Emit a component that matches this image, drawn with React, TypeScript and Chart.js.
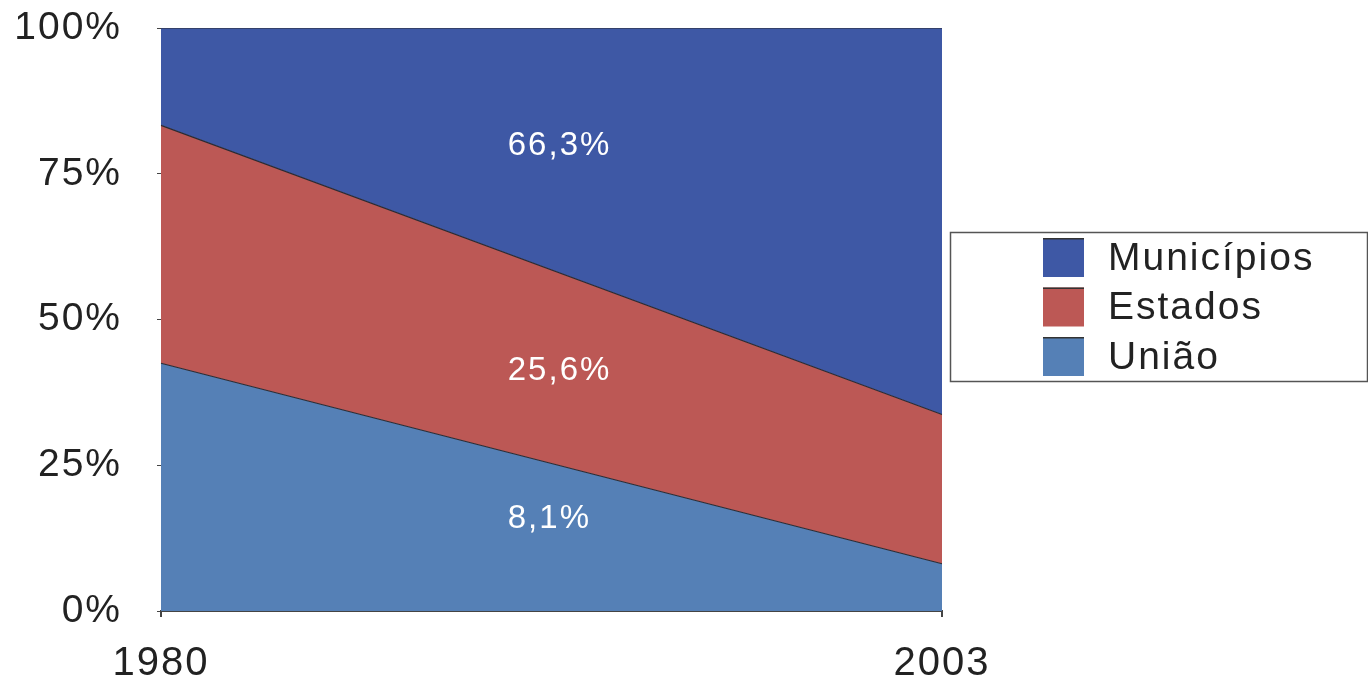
import React, { useEffect, useRef } from "react";
import { Chart, registerables } from "chart.js";

Chart.register(...registerables);

const years = ["1980", "2003"];
const uniao = [42.5, 8.1];
const estados = [40.8, 25.6];
const municipios = [16.7, 66.3];
const seriesNames = ["União", "Estados", "Municípios"];
const seriesColors = ["#5580b6", "#bc5855", "#3e58a5"];
const yTicks = [0, 25, 50, 75, 100];
const insideLabels = ["8,1%", "25,6%", "66,3%"];
const insideLabelValues = [15.8, 41.2, 79.8];

const FONT = "'Liberation Sans', Arial, Helvetica, sans-serif";

const spacingPlugin = {
  id: "spacing",
  beforeDraw(chart: any) {
    chart.ctx.letterSpacing = "2px";
  },
};

const insidePlugin = {
  id: "insideLabels",
  afterDatasetsDraw(chart: any) {
    const { ctx, chartArea, scales } = chart;
    ctx.save();
    ctx.letterSpacing = "2px";
    ctx.fillStyle = "#ffffff";
    ctx.font = `33px ${FONT}`;
    ctx.textAlign = "left";
    ctx.textBaseline = "middle";
    const x = chartArea.left + (chartArea.right - chartArea.left) * 0.444;
    insideLabels.forEach((t, i) => {
      ctx.fillText(t, x, scales.y.getPixelForValue(insideLabelValues[i]));
    });
    ctx.restore();
  },
};

const legendPlugin = {
  id: "boxLegend",
  afterDraw(chart: any) {
    const { ctx } = chart;
    ctx.save();
    ctx.letterSpacing = "2px";
    const bx = 950.5, by = 232.5, bw = 417, bh = 149;
    ctx.strokeStyle = "#555";
    ctx.lineWidth = 1.5;
    ctx.strokeRect(bx, by, bw, bh);
    const order = [2, 1, 0];
    ctx.font = `39px ${FONT}`;
    ctx.textAlign = "left";
    ctx.textBaseline = "middle";
    order.forEach((di, k) => {
      const top = 238 + k * 49.5;
      ctx.fillStyle = seriesColors[di];
      ctx.fillRect(1043, top, 41, 39);
      ctx.fillStyle = "#333";
      ctx.fillRect(1043, top, 41, 1.5);
      ctx.fillStyle = "#222";
      ctx.fillText(seriesNames[di], 1108, top + 21);
    });
    ctx.restore();
  },
};

export default function App() {
  const ref = useRef<HTMLCanvasElement>(null);
  useEffect(() => {
    document.body.style.margin = "0";
    const values = [uniao, estados, municipios];
    const chart = new Chart(ref.current!, {
      type: "line",
      data: {
        labels: years,
        datasets: values.map((v, i) => ({
          label: seriesNames[i],
          data: v,
          backgroundColor: seriesColors[i],
          borderColor: "#2b2b33",
          borderWidth: 1.2,
          pointRadius: 0,
          tension: 0,
          fill: i === 0 ? "origin" : "-1",
        })),
      },
      options: {
        responsive: false,
        animation: false,
        devicePixelRatio: 1,
        layout: { padding: { left: 0, top: 28, right: 426, bottom: 0 } },
        plugins: { legend: { display: false }, tooltip: { enabled: false } },
        scales: {
          x: {
            type: "category",
            offset: false,
            grid: { drawOnChartArea: false, drawTicks: true, tickLength: 6, color: "#444", lineWidth: 2 },
            border: { display: true, color: "#444", width: 2 },
            ticks: { font: { size: 40, family: FONT }, color: "#222", padding: 23, maxRotation: 0 },
            afterFit: (s: any) => { s.height = 70; s.paddingLeft = 0; s.paddingRight = 0; },
          },
          y: {
            stacked: true,
            min: 0,
            max: 100,
            grid: { drawOnChartArea: false, drawTicks: true, tickLength: 4, color: "#444" },
            border: { display: false },
            afterBuildTicks: (s: any) => { s.ticks = yTicks.map((v) => ({ value: v })); },
            ticks: {
              font: { size: 39, family: FONT },
              color: "#222",
              padding: 35,
              callback: (v: any) => v + "%",
            },
            afterFit: (s: any) => { s.width = 161; s.paddingTop = 0; s.paddingBottom = 0; },
          },
        },
      },
      plugins: [spacingPlugin, insidePlugin, legendPlugin],
    });
    return () => chart.destroy();
  }, []);
  return (
    <div style={{ position: "fixed", left: 0, top: 0, width: 1368, height: 681, background: "#fff" }}>
      <canvas ref={ref} width={1368} height={681} style={{ width: 1368, height: 681 }} />
    </div>
  );
}
